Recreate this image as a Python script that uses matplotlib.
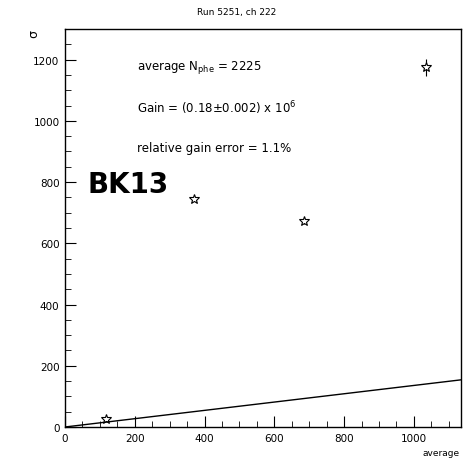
import matplotlib
matplotlib.use("Agg")
import matplotlib.pyplot as plt
from matplotlib.ticker import MultipleLocator

# data
avg = [117, 370, 685, 1035]
sigma = [26, 745, 672, 1175]
sigma_err = [8, 8, 8, 28]
avg_err = [0, 0, 0, 6]
fit_x = [0, 1135]
fit_y = [0, 154]

plt.rcParams['font.family'] = ['DejaVu Sans']

fig = plt.figure(figsize=(4.76, 4.60), dpi=100)
ax = fig.add_axes([0.1366, 0.0696, 0.8319, 0.8652])

ax.errorbar(avg, sigma, yerr=sigma_err, xerr=avg_err, fmt='none', ecolor='black', elinewidth=0.8, capsize=0)
ax.plot(avg, sigma, linestyle='none', marker='*', markersize=7, markerfacecolor='white',
        markeredgecolor='black', markeredgewidth=0.8)
ax.plot(fit_x, fit_y, color='black', linewidth=1.0)

ax.set_xlim(0, 1135)
ax.set_ylim(0, 1300)
ax.xaxis.set_major_locator(MultipleLocator(200))
ax.xaxis.set_minor_locator(MultipleLocator(50))
ax.yaxis.set_major_locator(MultipleLocator(200))
ax.yaxis.set_minor_locator(MultipleLocator(50))
ax.tick_params(which='both', direction='in', top=False, right=False, labelsize=7.5, pad=4)
ax.tick_params(which='major', length=8)
ax.tick_params(which='minor', length=4)
for s in ax.spines.values():
    s.set_linewidth(1.0)

fig.text(0.498, 0.972, "Run 5251, ch 222", ha='center', va='center', fontsize=6.5)
fig.text(0.07, 0.925, "σ", ha='center', va='center', fontsize=9, rotation=90)
fig.text(0.965, 0.015, "average", ha='right', va='center', fontsize=6.5)

ax.text(0.182, 0.905, r"average N$_{\rm phe}$ = 2225", transform=ax.transAxes, fontsize=8.5, va='center')
ax.text(0.182, 0.804, r"Gain = (0.18$\pm$0.002) x 10$^{6}$", transform=ax.transAxes, fontsize=8.5, va='center')
ax.text(0.182, 0.701, "relative gain error = 1.1%", transform=ax.transAxes, fontsize=8.5, va='center')
ax.text(0.058, 0.61, "BK13", transform=ax.transAxes, fontsize=20, va='center', fontweight='bold')

fig.savefig("out.png", dpi=100)
